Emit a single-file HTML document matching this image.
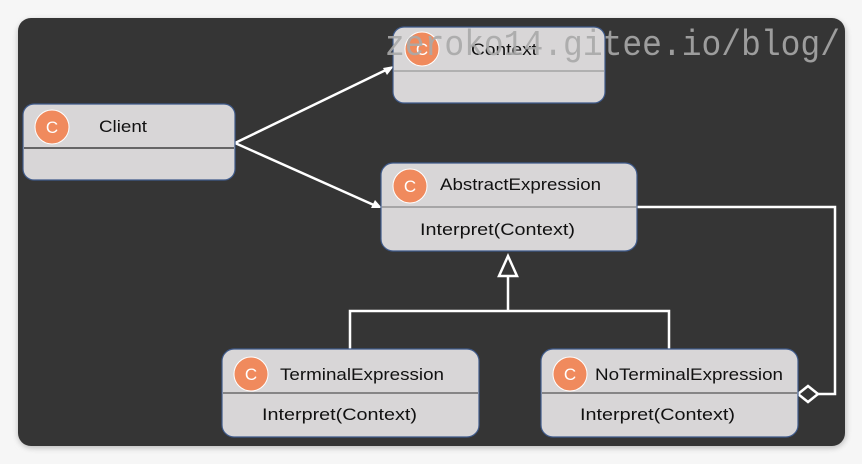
<!DOCTYPE html>
<html><head><meta charset="utf-8"><style>
html,body{margin:0;padding:0;background:#f6f6f6;width:862px;height:464px;overflow:hidden}
svg{display:block}
text{font-family:"Liberation Sans",sans-serif}
text.wm{font-family:"Liberation Mono",monospace}
</style></head><body>
<svg width="862" height="464" viewBox="0 0 862 464" xmlns="http://www.w3.org/2000/svg">
<defs>
<filter id="sh" x="-5%" y="-5%" width="110%" height="110%"><feGaussianBlur stdDeviation="3"/></filter>
</defs>
<rect x="18" y="20" width="828" height="428" rx="14" fill="#bbb" filter="url(#sh)"/>
<rect x="18" y="18" width="827" height="428" rx="13" fill="#353535"/>

<g stroke="#fff" stroke-width="2.5" fill="none">
<line x1="235" y1="143" x2="388" y2="69"/>
<line x1="235" y1="143" x2="376" y2="206"/>
<polyline points="637,207 835,207 835,394 818,394"/>
<line x1="508" y1="276" x2="508" y2="311"/>
<polyline points="350,349 350,311 669,311 669,349"/>
</g>
<polygon points="394,66 383,68 387,75" fill="#fff"/>
<polygon points="382,208 371,208 375,200" fill="#fff"/>
<polygon points="508,256 499,276 517,276" fill="#353535" stroke="#fff" stroke-width="2.5"/>
<polygon points="798,394 808,386 818,394 808,402" fill="#353535" stroke="#fff" stroke-width="2.5"/>

<g stroke="#3f5a8a" stroke-width="1.2" fill="#d8d6d7">
<rect x="393" y="27" width="212" height="76" rx="11"/>
<rect x="23" y="104" width="212" height="76" rx="11"/>
<rect x="381" y="163" width="256" height="88" rx="12"/>
<rect x="222" y="349" width="257" height="88" rx="12"/>
<rect x="541" y="349" width="257" height="88" rx="12"/>
</g>
<g stroke-width="1.3">
<line x1="394" y1="71" x2="604" y2="71" stroke="#999"/>
<line x1="24" y1="148" x2="234" y2="148" stroke="#222"/>
<line x1="382" y1="207" x2="636" y2="207" stroke="#888"/>
<line x1="223" y1="393" x2="478" y2="393" stroke="#555"/>
<line x1="542" y1="393" x2="797" y2="393" stroke="#555"/>
</g>
<g fill="#f08a5d" stroke="#fff" stroke-width="1">
<circle cx="422" cy="49" r="17"/>
<circle cx="52" cy="127" r="17"/>
<circle cx="410" cy="186" r="17"/>
<circle cx="251" cy="374" r="17"/>
<circle cx="570" cy="374" r="17"/>
</g>
<g fill="#fff" font-size="17" text-anchor="middle">
<text x="422" y="55">C</text>
<text x="52" y="133">C</text>
<text x="410" y="192">C</text>
<text x="251" y="380">C</text>
<text x="570" y="380">C</text>
</g>
<g fill="#111" font-size="17">
<text x="471" y="55" textLength="66" lengthAdjust="spacingAndGlyphs">Context</text>
<text x="99" y="132" textLength="48" lengthAdjust="spacingAndGlyphs">Client</text>
<text x="440" y="190" textLength="161" lengthAdjust="spacingAndGlyphs">AbstractExpression</text>
<text x="420" y="235" textLength="155" lengthAdjust="spacingAndGlyphs">Interpret(Context)</text>
<text x="280" y="380" textLength="164" lengthAdjust="spacingAndGlyphs">TerminalExpression</text>
<text x="262" y="420" textLength="155" lengthAdjust="spacingAndGlyphs">Interpret(Context)</text>
<text x="595" y="380" textLength="188" lengthAdjust="spacingAndGlyphs">NoTerminalExpression</text>
<text x="580" y="420" textLength="155" lengthAdjust="spacingAndGlyphs">Interpret(Context)</text>
</g>
<text class="wm" x="385" y="55" font-size="36" fill="#a8a8a8" fill-opacity="0.9" textLength="455" lengthAdjust="spacingAndGlyphs">zeroko14.gitee.io/blog/</text>
</svg>
</body></html>
